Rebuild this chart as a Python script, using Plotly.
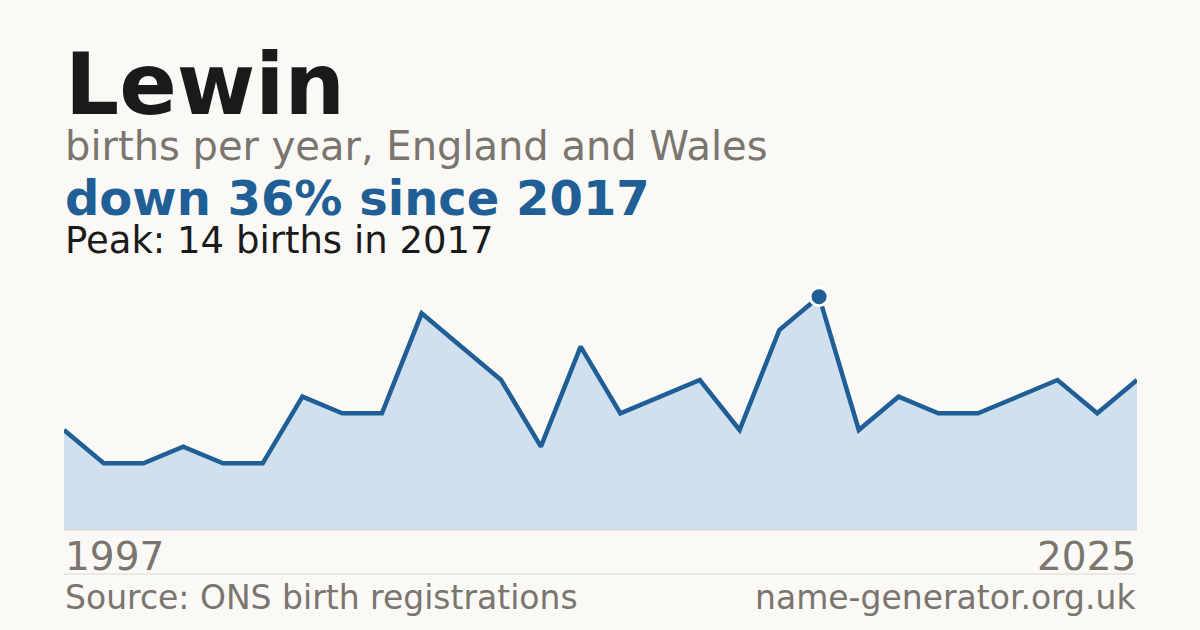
import plotly.graph_objects as go

# data (28 points, evenly spaced; one year has no record)
years = [1997, 1998, 1999, 2000, 2001, 2002, 2003, 2004, 2005, 2006,
         2008, 2009, 2010, 2011, 2012, 2013, 2014, 2015, 2016, 2017,
         2018, 2019, 2020, 2021, 2022, 2023, 2024, 2025]
births = [6, 4, 4, 5, 4, 4, 8, 7, 7, 13,
          11, 9, 5, 11, 7, 8, 9, 6, 12, 14,
          6, 8, 7, 7, 8, 9, 7, 9]

name = "Lewin"
subtitle = "births per year, England and Wales"
source = "Source: ONS birth registrations"
site = "name-generator.org.uk"

BG = "#faf9f5"
BLUE = "#1f5f96"
FILL = "#d0e0ef"
GREY = "#7a756e"
INK = "#1a1a1a"
FONT = "DejaVu Sans"

labels = [str(y) for y in years]
peak_i = births.index(max(births))
change = round((births[-1] - births[peak_i]) / births[peak_i] * 100)
headline = f"{'down' if change < 0 else 'up'} {abs(change)}% since {years[peak_i]}"
peak_txt = f"Peak: {births[peak_i]} births in {years[peak_i]}"

fig = go.Figure()
fig.add_trace(go.Scatter(
    x=labels, y=births, mode="lines", fill="tozeroy",
    fillcolor=FILL, line=dict(color=BLUE, width=4.5), hoverinfo="skip"))
fig.add_trace(go.Scatter(
    x=[labels[peak_i]], y=[births[peak_i]], mode="markers",
    marker=dict(color=BLUE, size=18, line=dict(color="white", width=3)),
    hoverinfo="skip"))

# plot area is 64..1137 px across, 280..530 px down
H = 250.0


def py(px):
    return (530 - px) / H


def note(text, x, xanchor, base, size, color, bold=False):
    # place by baseline: bbox centre sits ~0.346em above the baseline
    fig.add_annotation(
        text=f"<b>{text}</b>" if bold else text,
        x=x, y=py(base - 0.346 * size), xref="paper", yref="paper",
        xanchor=xanchor, yanchor="middle", showarrow=False, borderpad=0,
        font=dict(family=FONT, size=size, color=color))


note(name, 0, "left", 114, 85, INK, bold=True)
note(subtitle, 0, "left", 160, 40, GREY)
note(headline, 0, "left", 215, 48, BLUE, bold=True)
note(peak_txt, 0, "left", 253, 37, INK)
note(labels[0], 0, "left", 570, 39, GREY)
note(labels[-1], 1, "right", 570, 39, GREY)
note(source, 0, "left", 609, 33, GREY)
note(site, 1, "right", 609, 33, GREY)

fig.add_shape(type="line", xref="paper", yref="paper", x0=0, x1=1,
              y0=0, y1=0, line=dict(color="#dddad3", width=1.5))
fig.add_shape(type="line", xref="paper", yref="paper", x0=0, x1=1,
              y0=py(574), y1=py(574), line=dict(color="#dddad3", width=1))

fig.update_layout(
    width=1200, height=630, showlegend=False,
    paper_bgcolor=BG, plot_bgcolor=BG,
    margin=dict(l=64, r=63, t=280, b=100),
    xaxis=dict(type="category", range=[0, len(labels) - 1], visible=False,
               fixedrange=True),
    yaxis=dict(range=[0, 15], visible=False, fixedrange=True),
)

fig.write_html("out.html", config={"displayModeBar": False},
               post_script="document.body.style.margin='0';"
                           "document.body.style.background='" + BG + "';")
